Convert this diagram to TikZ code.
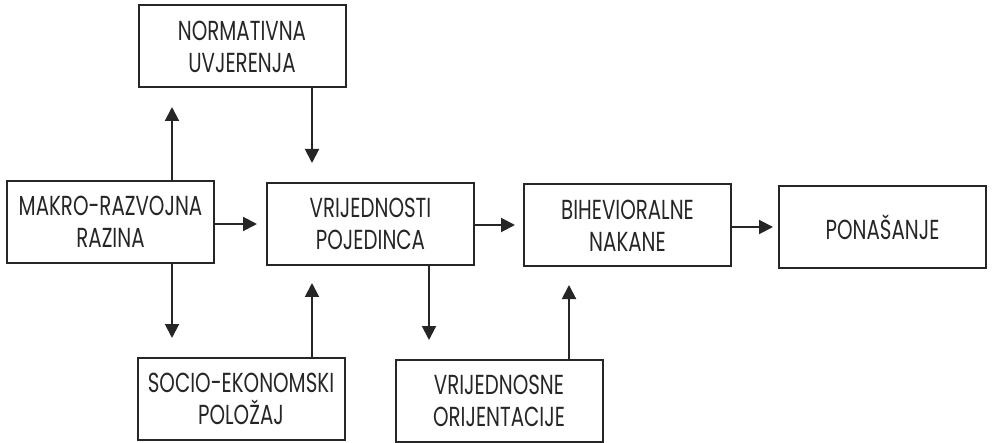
\documentclass[tikz,border=0pt]{standalone}
\usepackage{fontspec}
\setmainfont{Poppins}[FakeStretch=0.72]
\usetikzlibrary{arrows.meta}
\begin{document}
\begin{tikzpicture}[x=1pt,y=-1pt,
  box/.style={draw=black!85,line width=2pt,minimum width=207pt,minimum height=82pt,inner sep=0pt,align=center,
    font=\fontsize{27.5}{32}\selectfont,text=black!85},
  arr/.style={draw=black!85,line width=2pt,-{Triangle[length=14pt,width=14pt]}}]
\useasboundingbox (0,0) rectangle (992,443);
\node[box] (N) at (242,46.5) {NORMATIVNA\\UVJERENJA};
\node[box] (M) at (110.5,222) {MAKRO-RAZVOJNA\\RAZINA};
\node[box] (V) at (370.5,224) {VRIJEDNOSTI\\POJEDINCA};
\node[box] (B) at (627.5,225.5) {BIHEVIORALNE\\NAKANE};
\node[box] (P) at (882.5,227.5) {PONAŠANJE};
\node[box] (S) at (241,399) {SOCIO-EKONOMSKI\\POLOŽAJ};
\node[box] (O) at (499,401) {VRIJEDNOSNE\\ORIJENTACIJE};
\coordinate (a1) at (172,107);
\coordinate (a2) at (312,163);
\coordinate (a3) at (257,224);
\coordinate (a4) at (172,338);
\coordinate (a5) at (312,283);
\coordinate (a6) at (429,340);
\coordinate (a7) at (515,225);
\coordinate (a8) at (569,285);
\coordinate (a9) at (773,227);
\draw[arr] (a1 |- M.north) -- (a1);
\draw[arr] (a2 |- N.south) -- (a2);
\draw[arr] (a3 -| M.east) -- (a3);
\draw[arr] (a4 |- M.south) -- (a4);
\draw[arr] (a5 |- S.north) -- (a5);
\draw[arr] (a6 |- V.south) -- (a6);
\draw[arr] (a7 -| V.east) -- (a7);
\draw[arr] (a8 |- O.north) -- (a8);
\draw[arr] (a9 -| B.east) -- (a9);
\end{tikzpicture}
\end{document}
